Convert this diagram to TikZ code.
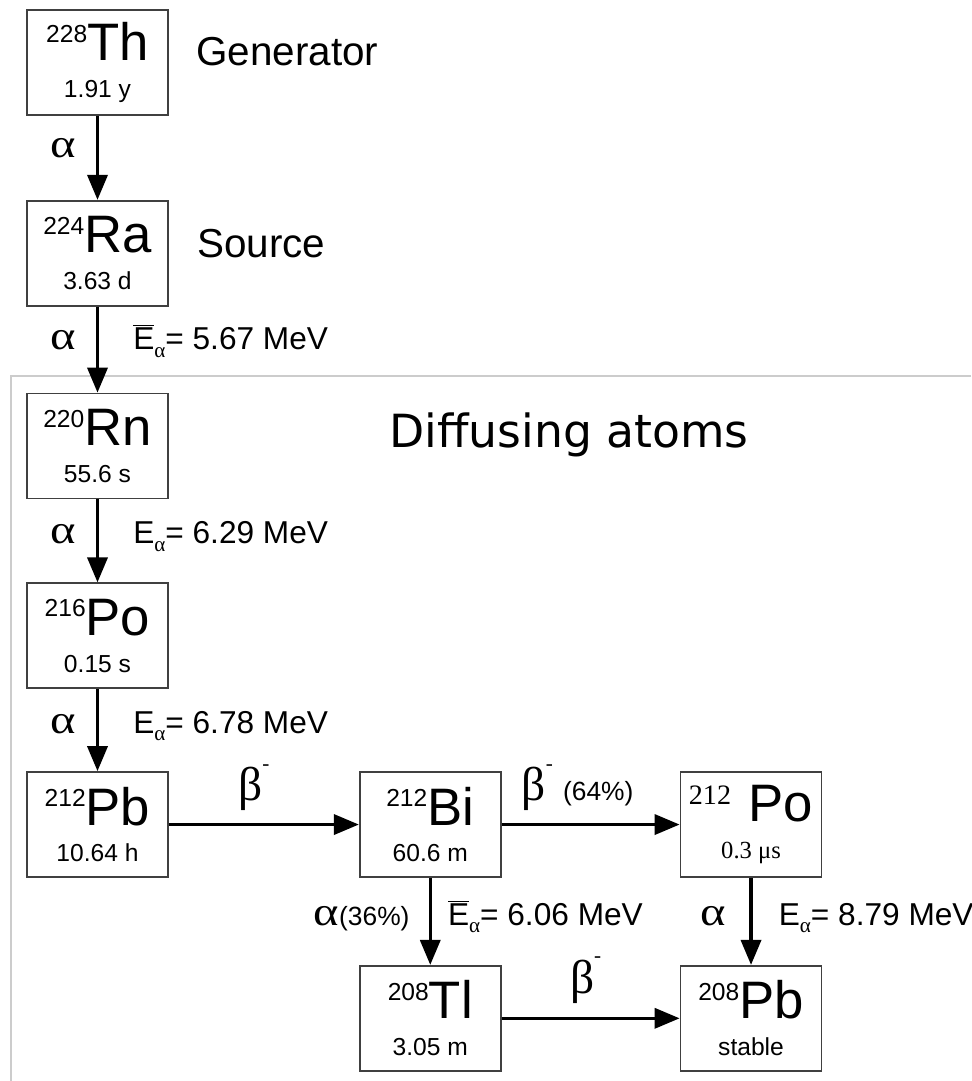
\documentclass[tikz,border=0pt]{standalone}
\usepackage{graphicx}
\usepackage{fontspec}
\setmainfont{Liberation Sans}
\newfontfamily\grkfont{Liberation Serif}
\newfontfamily\sansfont{Liberation Sans}
\newfontfamily\vrafont{DejaVu Sans}
\usetikzlibrary{positioning,arrows.meta}

\newcommand{\elemsize}{\fontsize{30}{30}\selectfont}
\newcommand{\masssize}{\fontsize{14}{14}\selectfont}
\newcommand{\halfsize}{\fontsize{14}{16}\selectfont}
\newcommand{\pctsize}{\sansfont\fontsize{15}{15}\selectfont}
% nuclide box text: mass number, symbol, half-life
\newcommand{\nuc}[3]{{\elemsize\raisebox{10.5pt}{\masssize #1}#2}\\[5pt]#3}
\newcommand{\asub}{\raisebox{-.45ex}{\grkfont\fontsize{12}{12}\selectfont α}}
\newcommand{\Ea}{E\asub}
\newcommand{\Eabar}{$\overline{\hbox{E}}$\asub}
\newcommand{\alf}{\scalebox{1.2}[1]{α}}
\newcommand{\bminus}{{\fontsize{27}{27}\selectfont β}\raisebox{.75em}{\fontsize{12}{12}\selectfont -}}

\tikzset{
  nuc-box/.style={draw=black!75,line width=1pt,minimum width=28.2mm,
    minimum height=21mm,inner sep=0pt,align=center,font=\halfsize},
  decay/.style={-{Triangle[length=5mm,width=4mm]},line width=2pt},
  role-lbl/.style={font=\fontsize{23}{23}\selectfont,inner sep=0pt},
  region-lbl/.style={font=\vrafont\fontsize{26}{26}\selectfont,inner sep=0pt},
  mode-lbl/.style={font=\grkfont\fontsize{23}{23}\selectfont,inner sep=0pt},
  energy-lbl/.style={font=\fontsize{18}{18}\selectfont,inner sep=0pt},
  region-frame/.style={draw=black!20,line width=1.6pt},
}

\begin{document}
\begin{tikzpicture}[x=0.2mm,y=-0.2mm,node distance=17mm and 38mm]
  \useasboundingbox (0,0) rectangle (971,1081);
  \draw[region-frame] (971,376) -- (11,376) -- (11,1081);

  % decay chain
  \node[nuc-box] (th228) at (97.5,62.5) {\nuc{228}{Th}{1.91 y}};
  \node[nuc-box,below=16.8mm of th228] (ra224) {\nuc{224}{Ra}{3.63 d}};
  \node[nuc-box,below=17.2mm of ra224] (rn220) {\nuc{220}{Rn}{55.6 s}};
  \node[nuc-box,below=16.6mm of rn220] (po216) {\nuc{216}{Po}{0.15 s}};
  \node[nuc-box,below=16.4mm of po216] (pb212) {\nuc{212}{Pb}{10.64 h}};
  \node[nuc-box,right=38mm of pb212] (bi212) {\nuc{212}{Bi}{60.6 m}};
  \node[nuc-box,right=35.6mm of bi212] (po212)
    {{\elemsize\raisebox{10pt}{\grkfont\fontsize{16}{16}\selectfont 212}\,\,Po}\\[5pt]{\grkfont 0.3 μs}};
  \node[nuc-box,below=17.4mm of bi212] (tl208) {\nuc{208}{Tl}{3.05 m}};
  \node[nuc-box,below=17.4mm of po212] (pb208) {\nuc{208}{Pb}{stable}};

  \node[role-lbl,anchor=base west] (gen) at ([shift={(27,3)}]th228.east) {Generator};
  \node[role-lbl,anchor=base west] (src) at ([shift={(28,4)}]ra224.east) {Source};
  \node[region-lbl,anchor=base west] (diff) at ([shift={(220,1)}]rn220.east) {Diffusing atoms};

  \draw[decay] (th228) -- (ra224)
    node[mode-lbl,midway,anchor=base east,xshift=-4mm] (d1) {\alf};
  \draw[decay] (ra224) -- (rn220)
    node[mode-lbl,midway,anchor=base east,xshift=-4mm] (d2) {\alf}
    node[energy-lbl,midway,anchor=base west,xshift=6.8mm] (e2) {\Eabar= 5.67 MeV};
  \draw[decay] (rn220) -- (po216)
    node[mode-lbl,midway,anchor=base east,xshift=-4mm,yshift=-.6mm] (d3) {\alf}
    node[energy-lbl,midway,anchor=base west,xshift=6.8mm,yshift=-.6mm] (e3) {\Ea= 6.29 MeV};
  \draw[decay] (po216) -- (pb212)
    node[mode-lbl,midway,anchor=base east,xshift=-4mm,yshift=-.6mm] (d4) {\alf}
    node[energy-lbl,midway,anchor=base west,xshift=6.8mm,yshift=-.6mm] (e4) {\Ea= 6.78 MeV};
  \draw[decay] (pb212) -- (bi212)
    node[mode-lbl,midway,anchor=base,xshift=-2mm,yshift=4.8mm] (d5) {\bminus};
  \draw[decay] (bi212) -- (po212)
    node[mode-lbl,midway,anchor=base,xshift=-2.6mm,yshift=4.8mm] (d6) {\bminus\ {\pctsize(64\%)}};
  \draw[decay] (bi212) -- (tl208)
    node[mode-lbl,midway,anchor=base east,xshift=-3.8mm,yshift=-.8mm] (d7) {\alf{\pctsize(36\%)}}
    node[energy-lbl,midway,anchor=base west,xshift=3.2mm,yshift=-.8mm] (e7) {\Eabar= 6.06 MeV};
  \draw[decay] (po212) -- (pb208)
    node[mode-lbl,midway,anchor=base east,xshift=-4.6mm,yshift=-.8mm] (d8) {\alf}
    node[energy-lbl,midway,anchor=base west,xshift=5.2mm,yshift=-.8mm] (e8) {\Ea= 8.79 MeV};
  \draw[decay] (tl208) -- (pb208)
    node[mode-lbl,midway,anchor=base,xshift=-1mm,yshift=5mm] (d9) {\bminus};
\end{tikzpicture}
\end{document}
